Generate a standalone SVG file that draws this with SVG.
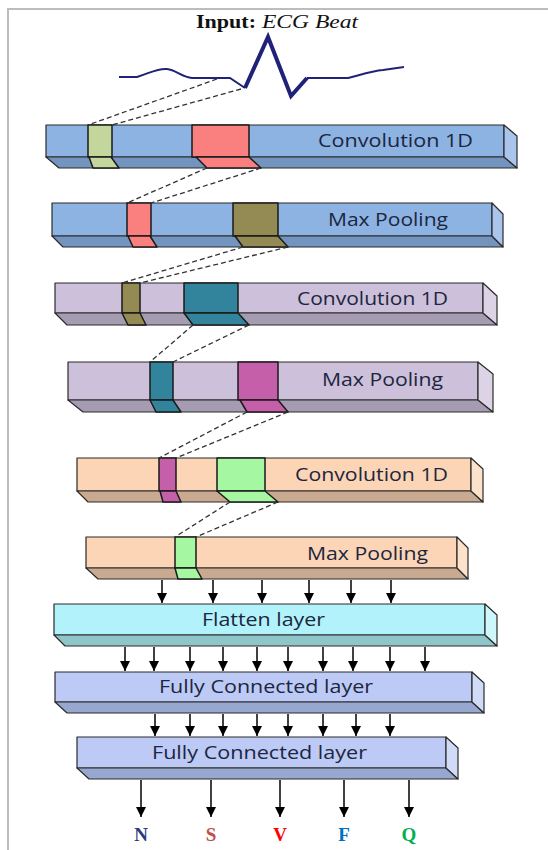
<svg xmlns="http://www.w3.org/2000/svg" width="548" height="850" viewBox="0 0 548 850">
  <defs>
    <marker id="arrow" markerUnits="userSpaceOnUse" markerWidth="10" markerHeight="10" viewBox="0 0 10 10" refX="10" refY="5" orient="auto">
      <path d="M0,0 L10,5 L0,10 Z" fill="#000"/>
    </marker>
  </defs>
  <style>
    .edge { stroke: #2a2a2a; stroke-width: 1.2; stroke-linejoin: round; }
    .patch { stroke: #1a1a1a; stroke-width: 1.5; stroke-linejoin: round; }
    .lbl { font-family: "Open Sans", "Noto Sans", "Liberation Sans", sans-serif; font-size: 18px; fill: #1c2640; }
    .dash { stroke: #333; stroke-width: 1.3; stroke-dasharray: 5 3; fill: none; }
    .arr { stroke: #000; stroke-width: 1.5; fill: none; marker-end: url(#arrow); }
    .out { font-family: "Liberation Serif", "Times New Roman", serif; font-size: 19px; font-weight: bold; text-anchor: middle; }
    .blue .f { fill: #8db3e2; } .blue .b { fill: #7294bf; } .blue .r { fill: #a9c5ec; }
    .lav .f { fill: #ccc0da; } .lav .b { fill: #a59cb2; } .lav .r { fill: #dcd3e6; }
    .peach .f { fill: #fbd5b5; } .peach .b { fill: #c9aa90; } .peach .r { fill: #fde2cb; }
    .cyan .f { fill: #b2f3fb; } .cyan .b { fill: #8fc6c9; } .cyan .r { fill: #cdf7fb; }
    .peri .f { fill: #bccaf5; } .peri .b { fill: #98a7cf; } .peri .r { fill: #d0dbf8; }
  </style>

  <!-- page frame -->
  <path d="M8,850 L8,9 L548,9" fill="none" stroke="#bdbdbd" stroke-width="2"/>

  <!-- title and ECG trace -->
  <g id="input">
    <text x="196" y="28" font-family="Liberation Serif, Times New Roman, serif" font-size="19" font-weight="bold" fill="#111" textLength="60" lengthAdjust="spacingAndGlyphs">Input:</text>
    <text x="262" y="28" font-family="Liberation Serif, Times New Roman, serif" font-size="19" font-style="italic" fill="#111" textLength="96" lengthAdjust="spacingAndGlyphs">ECG Beat</text>
    <path d="M119,77 L137,77 C150,73 158,68 167,69 C176,70 182,77 192,78 L230,78 L245,88" fill="none" stroke="#1f2278" stroke-width="2"/>
    <path d="M245,88 L268,37 L291,96 L307,78" fill="none" stroke="#1f2278" stroke-width="4" stroke-linejoin="miter"/>
    <path d="M307,78 L348,78 C360,75 372,71 383,70 L404,67" fill="none" stroke="#1f2278" stroke-width="2"/>
  </g>

  <!-- Layer 1: Convolution 1D -->
  <g id="conv1" class="blue">
    <rect class="f edge" x="46" y="125" width="458" height="32"/>
    <polygon class="b edge" points="46,157 504,157 517,168 59,168"/>
    <polygon class="r edge" points="504,125 517,136 517,168 504,157"/>
    <rect class="patch" x="88" y="125" width="24" height="32" fill="#c3d69b"/>
    <polygon class="patch" points="89,157 111,157 119,168 93,168" fill="#c3d69b"/>
    <rect class="patch" x="192" y="125" width="57" height="32" fill="#fa8080"/>
    <polygon class="patch" points="196,157 249,157 261,168 207,168" fill="#fa8080"/>
    <text class="lbl" x="318" y="147" textLength="155" lengthAdjust="spacingAndGlyphs">Convolution  1D</text>
  </g>

  <!-- Layer 2: Max Pooling -->
  <g id="pool1" class="blue">
    <rect class="f edge" x="52" y="203" width="440" height="33"/>
    <polygon class="b edge" points="52,236 492,236 503,247 63,247"/>
    <polygon class="r edge" points="492,203 503,214 503,247 492,236"/>
    <rect class="patch" x="127" y="203" width="24" height="33" fill="#fa8080"/>
    <polygon class="patch" points="128,236 150,236 157,247 133,247" fill="#fa8080"/>
    <rect class="patch" x="233" y="203" width="45" height="33" fill="#948a54"/>
    <polygon class="patch" points="235,236 278,236 288,247 243,247" fill="#948a54"/>
    <text class="lbl" x="328" y="226" textLength="120" lengthAdjust="spacingAndGlyphs">Max Pooling</text>
  </g>

  <!-- Layer 3: Convolution 1D -->
  <g id="conv2" class="lav">
    <rect class="f edge" x="55" y="283" width="428" height="30"/>
    <polygon class="b edge" points="55,313 483,313 497,325 67,325"/>
    <polygon class="r edge" points="483,283 497,296 497,325 483,313"/>
    <rect class="patch" x="122" y="283" width="18" height="30" fill="#948a54"/>
    <polygon class="patch" points="122,313 140,313 146,325 128,325" fill="#948a54"/>
    <rect class="patch" x="184" y="283" width="54" height="30" fill="#31849b"/>
    <polygon class="patch" points="184,313 238,313 249,325 193,325" fill="#31849b"/>
    <text class="lbl" x="297" y="305" textLength="151" lengthAdjust="spacingAndGlyphs">Convolution  1D</text>
  </g>

  <!-- Layer 4: Max Pooling -->
  <g id="pool2" class="lav">
    <rect class="f edge" x="68" y="362" width="410" height="38"/>
    <polygon class="b edge" points="68,400 478,400 493,412 83,412"/>
    <polygon class="r edge" points="478,362 493,374 493,412 478,400"/>
    <rect class="patch" x="150" y="362" width="23" height="38" fill="#31849b"/>
    <polygon class="patch" points="150,400 173,400 181,412 156,412" fill="#31849b"/>
    <rect class="patch" x="238" y="362" width="40" height="38" fill="#c55fa9"/>
    <polygon class="patch" points="240,400 278,400 288,412 247,412" fill="#c55fa9"/>
    <text class="lbl" x="322" y="386" textLength="121" lengthAdjust="spacingAndGlyphs">Max Pooling</text>
  </g>

  <!-- Layer 5: Convolution 1D -->
  <g id="conv3" class="peach">
    <rect class="f edge" x="77" y="458" width="394" height="33"/>
    <polygon class="b edge" points="77,491 471,491 483,502 88,502"/>
    <polygon class="r edge" points="471,458 483,469 483,502 471,491"/>
    <rect class="patch" x="159" y="458" width="17" height="33" fill="#c55fa9"/>
    <polygon class="patch" points="160,491 176,491 181,502 163,502" fill="#c55fa9"/>
    <rect class="patch" x="217" y="458" width="48" height="33" fill="#a6f7a1"/>
    <polygon class="patch" points="217,491 265,491 278,502 230,502" fill="#a6f7a1"/>
    <text class="lbl" x="295" y="481" textLength="153" lengthAdjust="spacingAndGlyphs">Convolution  1D</text>
  </g>

  <!-- Layer 6: Max Pooling -->
  <g id="pool3" class="peach">
    <rect class="f edge" x="86" y="537" width="371" height="31"/>
    <polygon class="b edge" points="86,568 457,568 468,579 98,579"/>
    <polygon class="r edge" points="457,537 468,548 468,579 457,568"/>
    <rect class="patch" x="175" y="537" width="21" height="31" fill="#a6f7a1"/>
    <polygon class="patch" points="175,568 196,568 202,579 178,579" fill="#a6f7a1"/>
    <text class="lbl" x="307" y="560" textLength="121" lengthAdjust="spacingAndGlyphs">Max Pooling</text>
  </g>

  <!-- Layer 7: Flatten -->
  <g id="flatten" class="cyan">
    <rect class="f edge" x="54" y="604" width="431" height="31"/>
    <polygon class="b edge" points="54,635 485,635 497,646 65,646"/>
    <polygon class="r edge" points="485,604 497,615 497,646 485,635"/>
    <text class="lbl" x="202" y="626" textLength="123" lengthAdjust="spacingAndGlyphs">Flatten layer</text>
  </g>

  <!-- Layer 8: Fully Connected -->
  <g id="fc1" class="peri">
    <rect class="f edge" x="55" y="672" width="417" height="30"/>
    <polygon class="b edge" points="55,702 472,702 484,713 67,713"/>
    <polygon class="r edge" points="472,672 484,683 484,713 472,702"/>
    <text class="lbl" x="159" y="693" textLength="214" lengthAdjust="spacingAndGlyphs">Fully Connected  layer</text>
  </g>

  <!-- Layer 9: Fully Connected -->
  <g id="fc2" class="peri">
    <rect class="f edge" x="77" y="737" width="369" height="31"/>
    <polygon class="b edge" points="77,768 446,768 458,779 89,779"/>
    <polygon class="r edge" points="446,737 458,748 458,779 446,768"/>
    <text class="lbl" x="152" y="759" textLength="215" lengthAdjust="spacingAndGlyphs">Fully Connected  layer</text>
  </g>

  <!-- output classes -->
  <g id="outputs">
    <text class="out" x="141" y="841" fill="#2e3a80">N</text>
    <text class="out" x="211" y="841" fill="#c0504d">S</text>
    <text class="out" x="280" y="841" fill="#ff0000">V</text>
    <text class="out" x="344" y="841" fill="#0070c0">F</text>
    <text class="out" x="409" y="841" fill="#00b050">Q</text>
  </g>

  <!-- connectors -->
  <g id="connectors">
    <!-- receptive-field guides -->
    <path class="dash" d="M217,79 L88,125 M241,89 L112,125"/>
    <path class="dash" d="M207,168 L127,203 M261,168 L151,203"/>
    <path class="dash" d="M243,247 L122,283 M288,247 L140,283"/>
    <path class="dash" d="M193,325 L150,362 M249,325 L173,362"/>
    <path class="dash" d="M247,412 L159,458 M288,412 L176,458"/>
    <path class="dash" d="M230,502 L175,537 M278,502 L196,537"/>
    <!-- pooling to flatten -->
    <path class="arr" d="M162,580 V603"/>
    <path class="arr" d="M213,580 V603"/>
    <path class="arr" d="M262,580 V603"/>
    <path class="arr" d="M309,580 V603"/>
    <path class="arr" d="M351,580 V603"/>
    <path class="arr" d="M391,580 V603"/>
    <!-- flatten to dense -->
    <path class="arr" d="M125,647 V671"/>
    <path class="arr" d="M154,647 V671"/>
    <path class="arr" d="M190,647 V671"/>
    <path class="arr" d="M223,647 V671"/>
    <path class="arr" d="M257,647 V671"/>
    <path class="arr" d="M288,647 V671"/>
    <path class="arr" d="M323,647 V671"/>
    <path class="arr" d="M353,647 V671"/>
    <path class="arr" d="M390,647 V671"/>
    <path class="arr" d="M425,647 V671"/>
    <!-- dense to dense -->
    <path class="arr" d="M155,714 V736"/>
    <path class="arr" d="M190,714 V736"/>
    <path class="arr" d="M223,714 V736"/>
    <path class="arr" d="M257,714 V736"/>
    <path class="arr" d="M288,714 V736"/>
    <path class="arr" d="M323,714 V736"/>
    <path class="arr" d="M356,714 V736"/>
    <path class="arr" d="M390,714 V736"/>
    <!-- dense to classes -->
    <path class="arr" d="M141,780 V817"/>
    <path class="arr" d="M211,780 V817"/>
    <path class="arr" d="M280,780 V817"/>
    <path class="arr" d="M344,780 V817"/>
    <path class="arr" d="M409,780 V817"/>
  </g>
</svg>
